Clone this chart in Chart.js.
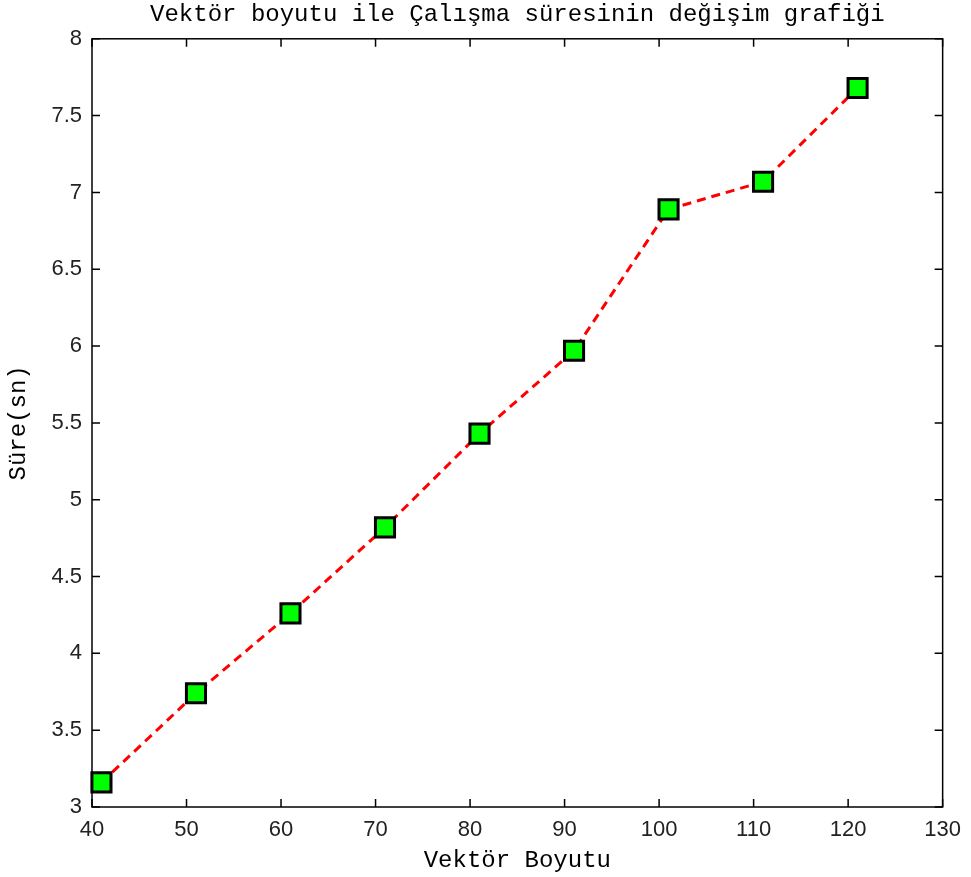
<!DOCTYPE html>
<html>
<head>
<meta charset="utf-8">
<script src="https://cdn.jsdelivr.net/npm/chart.js@4/dist/chart.umd.min.js"></script>
<style>
  body { margin: 0; background: #fff; }
  canvas { display: block; }
</style>
</head>
<body>
<canvas id="chart" width="971" height="877"></canvas>
<script>
// data
const vectorSizes = [41, 51, 61, 71, 81, 91, 101, 111, 121];
const runTimes = [3.16, 3.74, 4.26, 4.82, 5.43, 5.97, 6.89, 7.07, 7.68];
const xTicks = [40, 50, 60, 70, 80, 90, 100, 110, 120, 130];
const yTicks = [3, 3.5, 4, 4.5, 5, 5.5, 6, 6.5, 7, 7.5, 8];

const titleText = 'Vektör boyutu ile Çalışma süresinin değişim grafiği';
const xLabel = 'Vektör Boyutu';
const yLabel = 'Süre(sn)';

const monoFont = '"Liberation Mono", "DejaVu Sans Mono", monospace';
const sansFont = '"Liberation Sans", Arial, sans-serif';

// frame + inward ticks on all four sides, like the matlab box
const framePlugin = {
  id: 'frame',
  afterDraw(chart) {
    const { ctx, chartArea: a, scales } = chart;
    const len = 8;
    ctx.save();
    ctx.strokeStyle = '#000';
    ctx.lineWidth = 1.5;
    ctx.strokeRect(a.left, a.top, a.right - a.left, a.bottom - a.top);
    ctx.beginPath();
    xTicks.forEach(v => {
      const px = scales.x.getPixelForValue(v);
      ctx.moveTo(px, a.bottom); ctx.lineTo(px, a.bottom - len);
      ctx.moveTo(px, a.top); ctx.lineTo(px, a.top + len);
    });
    yTicks.forEach(v => {
      const py = scales.y.getPixelForValue(v);
      ctx.moveTo(a.left, py); ctx.lineTo(a.left + len, py);
      ctx.moveTo(a.right, py); ctx.lineTo(a.right - len, py);
    });
    ctx.stroke();
    ctx.restore();
  }
};

const ctx = document.getElementById('chart').getContext('2d');
new Chart(ctx, {
  type: 'line',
  data: {
    datasets: [{
      data: vectorSizes.map((x, i) => ({ x: x, y: runTimes[i] })),
      borderColor: '#ff0000',
      borderWidth: 3,
      borderDash: [9, 6],
      tension: 0,
      pointStyle: 'rect',
      pointRadius: 13.5,
      pointBackgroundColor: '#00ff00',
      pointBorderColor: '#000',
      pointBorderWidth: 3,
      clip: false
    }]
  },
  options: {
    responsive: false,
    animation: false,
    layout: { padding: { right: 28, left: 0, bottom: 0 } },
    plugins: {
      legend: { display: false },
      tooltip: { enabled: false },
      title: {
        display: true,
        text: titleText,
        fullSize: false,
        color: '#000',
        font: { family: monoFont, size: 24, weight: 'normal' },
        padding: { top: 0, bottom: 10 }
      }
    },
    scales: {
      x: {
        type: 'linear',
        min: 40,
        max: 130,
        afterBuildTicks: s => { s.ticks = xTicks.map(v => ({ value: v })); },
        afterFit: s => { s.height = 70; },
        grid: { display: false, drawTicks: false },
        border: { display: false },
        ticks: {
          color: '#222',
          padding: 10,
          font: { family: sansFont, size: 22 },
          callback: v => String(v)
        },
        title: {
          display: true,
          text: xLabel,
          color: '#000',
          font: { family: monoFont, size: 24 },
          padding: { top: 0, bottom: 2 }
        }
      },
      y: {
        type: 'linear',
        min: 3,
        max: 8,
        afterBuildTicks: s => { s.ticks = yTicks.map(v => ({ value: v })); },
        afterFit: s => { s.width = 92; },
        grid: { display: false, drawTicks: false },
        border: { display: false },
        ticks: {
          color: '#222',
          padding: 10,
          font: { family: sansFont, size: 22 },
          callback: v => String(v)
        },
        title: {
          display: true,
          text: yLabel,
          color: '#000',
          font: { family: monoFont, size: 24 },
          padding: { top: 4, bottom: 0 }
        }
      }
    }
  },
  plugins: [framePlugin]
});
</script>
</body>
</html>
